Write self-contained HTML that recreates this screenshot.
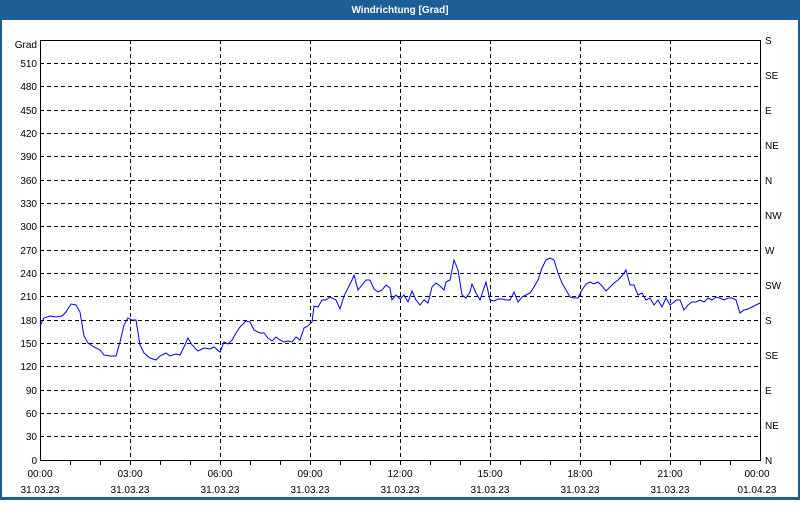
<!DOCTYPE html>
<html><head><meta charset="utf-8"><style>
body{margin:0;width:800px;height:500px;overflow:hidden;background:#fff;font-family:"Liberation Sans",sans-serif}
</style></head><body>
<svg width="800" height="500" xmlns="http://www.w3.org/2000/svg" font-family="Liberation Sans, sans-serif" font-size="10">
<rect x="0" y="0" width="800" height="500" fill="#1c5e96"/>
<rect x="2" y="20" width="796" height="477" fill="#fff"/>
<text x="400" y="13" fill="#fff" font-weight="bold" text-anchor="middle" font-size="10">Windrichtung [Grad]</text>
<g stroke="#000" stroke-dasharray="4,3" stroke-width="1">
<line x1="40" x2="760" y1="63.5" y2="63.5"/><line x1="40" x2="760" y1="86.5" y2="86.5"/><line x1="40" x2="760" y1="110.5" y2="110.5"/><line x1="40" x2="760" y1="133.5" y2="133.5"/><line x1="40" x2="760" y1="156.5" y2="156.5"/><line x1="40" x2="760" y1="180.5" y2="180.5"/><line x1="40" x2="760" y1="203.5" y2="203.5"/><line x1="40" x2="760" y1="226.5" y2="226.5"/><line x1="40" x2="760" y1="250.5" y2="250.5"/><line x1="40" x2="760" y1="273.5" y2="273.5"/><line x1="40" x2="760" y1="296.5" y2="296.5"/><line x1="40" x2="760" y1="320.5" y2="320.5"/><line x1="40" x2="760" y1="343.5" y2="343.5"/><line x1="40" x2="760" y1="366.5" y2="366.5"/><line x1="40" x2="760" y1="390.5" y2="390.5"/><line x1="40" x2="760" y1="413.5" y2="413.5"/><line x1="40" x2="760" y1="436.5" y2="436.5"/>
<line y1="40" y2="460" x1="130.5" x2="130.5"/><line y1="40" y2="460" x1="220.5" x2="220.5"/><line y1="40" y2="460" x1="310.5" x2="310.5"/><line y1="40" y2="460" x1="400.5" x2="400.5"/><line y1="40" y2="460" x1="490.5" x2="490.5"/><line y1="40" y2="460" x1="580.5" x2="580.5"/><line y1="40" y2="460" x1="670.5" x2="670.5"/>
</g>
<rect x="40.5" y="40.5" width="720" height="420" fill="none" stroke="#000"/>
<g stroke="#000">
<line x1="70.5" x2="70.5" y1="460" y2="465"/><line x1="100.5" x2="100.5" y1="460" y2="465"/><line x1="130.5" x2="130.5" y1="460" y2="465"/><line x1="160.5" x2="160.5" y1="460" y2="465"/><line x1="190.5" x2="190.5" y1="460" y2="465"/><line x1="220.5" x2="220.5" y1="460" y2="465"/><line x1="250.5" x2="250.5" y1="460" y2="465"/><line x1="280.5" x2="280.5" y1="460" y2="465"/><line x1="310.5" x2="310.5" y1="460" y2="465"/><line x1="340.5" x2="340.5" y1="460" y2="465"/><line x1="370.5" x2="370.5" y1="460" y2="465"/><line x1="400.5" x2="400.5" y1="460" y2="465"/><line x1="430.5" x2="430.5" y1="460" y2="465"/><line x1="460.5" x2="460.5" y1="460" y2="465"/><line x1="490.5" x2="490.5" y1="460" y2="465"/><line x1="520.5" x2="520.5" y1="460" y2="465"/><line x1="550.5" x2="550.5" y1="460" y2="465"/><line x1="580.5" x2="580.5" y1="460" y2="465"/><line x1="610.5" x2="610.5" y1="460" y2="465"/><line x1="640.5" x2="640.5" y1="460" y2="465"/><line x1="670.5" x2="670.5" y1="460" y2="465"/><line x1="700.5" x2="700.5" y1="460" y2="465"/><line x1="730.5" x2="730.5" y1="460" y2="465"/>
</g>
<g text-anchor="end" fill="#000">
<text x="37" y="48">Grad</text>
<text x="37" y="67">510</text><text x="37" y="90">480</text><text x="37" y="114">450</text><text x="37" y="137">420</text><text x="37" y="160">390</text><text x="37" y="184">360</text><text x="37" y="207">330</text><text x="37" y="230">300</text><text x="37" y="254">270</text><text x="37" y="277">240</text><text x="37" y="300">210</text><text x="37" y="324">180</text><text x="37" y="347">150</text><text x="37" y="370">120</text><text x="37" y="394">90</text><text x="37" y="417">60</text><text x="37" y="440">30</text><text x="37" y="464">0</text>
</g>
<g fill="#000">
<text x="765" y="44">S</text><text x="765" y="79">SE</text><text x="765" y="114">E</text><text x="765" y="149">NE</text><text x="765" y="184">N</text><text x="765" y="219">NW</text><text x="765" y="254">W</text><text x="765" y="289">SW</text><text x="765" y="324">S</text><text x="765" y="359">SE</text><text x="765" y="394">E</text><text x="765" y="429">NE</text><text x="765" y="464">N</text>
</g>
<g text-anchor="middle" fill="#000">
<text x="40" y="477">00:00</text><text x="130" y="477">03:00</text><text x="220" y="477">06:00</text><text x="310" y="477">09:00</text><text x="400" y="477">12:00</text><text x="490" y="477">15:00</text><text x="580" y="477">18:00</text><text x="670" y="477">21:00</text><text x="757" y="477">00:00</text>
<text x="40" y="493">31.03.23</text><text x="130" y="493">31.03.23</text><text x="220" y="493">31.03.23</text><text x="310" y="493">31.03.23</text><text x="400" y="493">31.03.23</text><text x="490" y="493">31.03.23</text><text x="580" y="493">31.03.23</text><text x="670" y="493">31.03.23</text><text x="757" y="493">01.04.23</text>
</g>
<polyline fill="none" stroke="#0000ee" stroke-width="1" points="40,326 44,318 50,316 56,317 62,316 66,312 71,304 76,305 80,312 84,336 88,343 94,347 100,350 104,355 110,356 116,356 120,342 124,325 128,318 132,320 136,320 140,345 144,353 150,358 156,360 160,356 166,353 170,356 176,354 180,355 184,347 188,338 192,345 198,351 204,348 210,349 214,347 220,352 224,342 228,344 232,340 236,333 240,327 246,321 250,322 254,330 260,333 264,333 268,338 272,341 276,337 280,340 284,342 288,341 292,342 296,337 300,340 304,328 308,326 312,322 314,306 318,307 322,300 326,300 330,297 336,300 340,309 344,296 348,288 352,280 354,275 358,290 362,285 366,280 370,280 374,289 378,292 382,290 386,285 390,288 392,300 396,295 400,299 404,295 408,302 412,291 416,300 420,305 424,300 428,303 432,287 436,283 440,286 444,290 446,282 450,280 454,260 458,270 462,295 466,298 470,292 472,284 476,293 480,300 484,288 486,282 490,300 494,301 498,299 502,299 506,300 510,300 514,292 518,302 522,297 526,295 530,293 534,287 538,280 542,268 546,260 550,258 554,260 558,273 562,283 566,290 570,297 574,298 578,298 582,290 586,284 590,282 594,284 598,282 602,286 606,291 610,287 614,283 618,280 622,276 626,270 630,285 634,285 638,295 642,293 646,300 650,298 654,305 658,300 662,307 666,298 670,305 674,302 676,300 680,300 684,310 688,305 692,302 696,302 700,300 704,302 708,298 712,300 716,297 720,298 724,300 728,298 732,298 736,300 740,313 744,310 748,309 752,307 756,305 760,303"/>
</svg>
</body></html>
